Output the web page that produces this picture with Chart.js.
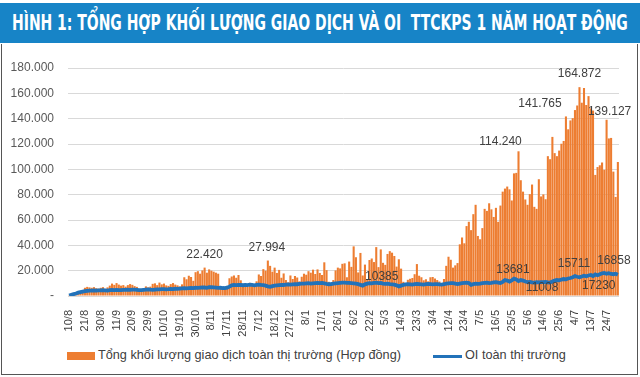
<!DOCTYPE html>
<html>
<head>
<meta charset="utf-8">
<script src="https://cdn.jsdelivr.net/npm/chart.js@4"></script>
<style>
  body { margin: 0; width: 640px; height: 377px; background: #fff; position: relative; overflow: hidden; font-family: "Liberation Sans", Arial, sans-serif; }
  #title { position: absolute; left: 0; top: 3px; width: 640px; height: 40px; background: #1784c7; }
  #titleText { position: absolute; left: 12px; top: 7px; color: #fff; font: bold 22px "Liberation Sans Narrow", "DejaVu Sans Condensed", sans-serif; white-space: nowrap; transform-origin: 0 0; }
  #frame { position: absolute; left: 1px; top: 44px; width: 635px; height: 330px; border: 1px solid #555; border-top: none; }
  #chart { position: absolute; left: 4px; top: 44px; }
  .lg { position: absolute; font-size: 12.7px; color: #404040; white-space: nowrap; }
</style>
</head>
<body>
<div id="title"><div id="titleText">HÌNH 1: TỔNG HỢP KHỐI LƯỢNG GIAO DỊCH VÀ OI&nbsp; TTCKPS 1 NĂM HOẠT ĐỘNG</div></div>
<div id="frame"></div>
<canvas id="chart" width="632" height="296"></canvas>
<div style="position:absolute;left:67px;top:352px;width:28px;height:8px;background:#ED7D31"></div>
<div class="lg" style="left:98px;top:348px">Tổng khối lượng giao dịch toàn thị trường (Hợp đồng)</div>
<div style="position:absolute;left:433px;top:355px;width:29px;height:3px;background:#2272B9"></div>
<div class="lg" style="left:465px;top:348px">OI toàn thị trường</div>
<script>
// fit title width
const tt = document.getElementById('titleText');
tt.style.transform = 'scaleX(' + (616 / tt.offsetWidth) + ')';

// x tick labels, one every 7 sessions
const tickLabels = ['10/8', '21/8', '30/8', '11/9', '20/9', '29/9', '10/10', '19/10', '30/10', '8/11',
    '17/11', '28/11', '7/12', '18/12', '27/12', '8/1', '17/1', '26/1', '6/2', '22/2', '5/3', '14/3',
    '23/3', '3/4', '12/4', '23/4', '7/5', '16/5', '25/5', '5/6', '14/6', '25/6', '4/7', '13/7', '24/7'];

// tổng khối lượng giao dịch (hợp đồng), mỗi phiên
const volume = [
    600, 900, 1400, 1800, 2600, 3000, 3800,
    6500, 7200, 6800, 6500, 7000, 6200, 5800,
    6500, 7000, 5600, 6800, 8200, 9800, 8800,
    10200, 9000, 8200, 8600, 7400, 8600, 9400,
    8800, 7800, 7200, 5600, 4800, 6000, 7600,
    6800, 7400, 9600, 10000, 8600, 10600, 9200,
    9800, 8400, 8000, 9400, 10200, 9000, 8400,
    7600, 9200, 14800, 13200, 16000, 15000, 12000,
    18800, 19600, 17600, 20200, 22420, 18400, 21000,
    20000, 19200, 18400, 17600, 7200, 6400, 5200,
    8000, 14000, 15400, 16200, 14400, 16600, 12400,
    8000, 9600, 7200, 10400, 9000, 8600, 11600,
    17000, 15800, 21200, 20000, 27994, 23800, 19200,
    22400, 18200, 20600, 14400, 17800, 12600, 10800,
    16200, 13400, 15800, 14600, 11600, 15200, 17600,
    16800, 19600, 18400, 20800, 17400, 21000, 18200,
    16600, 26600, 20400, 11200, 10400, 12600, 20200,
    22400, 21800, 25400, 25800, 14800, 27200, 23000,
    39200, 30600, 18600, 34000, 16200, 24800, 13400,
    28400, 29600, 26800, 38600, 22800, 36800, 26200,
    24600, 33200, 35400, 34200, 31600, 23200, 29000,
    21600, 11200, 10200, 12800, 13600, 14200, 17200,
    25200, 16000, 14800, 12400, 13200, 11600, 14800,
    15000, 13800, 12600, 11400, 9800, 13400, 23800,
    31000, 28600, 22400, 24200, 26000, 40800, 46200,
    41600, 55200, 58600, 52000, 64600, 72000, 47400,
    44800, 53600, 68800, 67200, 73200, 68400, 62400,
    69600, 58600, 71400, 82400, 84800, 86400, 84200,
    75400, 96800, 97200, 114240, 91400, 82400, 76200,
    72000, 80400, 88000, 70400, 68800, 92200, 78600,
    80200, 76400, 110400, 108000, 125600, 112800, 110400,
    114800, 120200, 122400, 141765, 131600, 138600, 140400,
    146800, 150400, 164872, 152600, 164200, 150800, 157800,
    148200, 146400, 95600, 101800, 103200, 105400, 99600,
    139127, 124400, 124800, 98200, 78200, 105800
];

// OI toàn thị trường
const openInterest = [
    300, 900, 1500, 2000, 2600, 3000, 3400,
    3800, 4100, 4300, 4200, 4400, 4300, 4500,
    4400, 4600, 4500, 4300, 4600, 4800, 4700,
    4900, 4700, 4600, 4800, 4900, 5000, 4800,
    5000, 5100, 4900, 4700, 4600, 4800, 5000,
    5200, 5000, 4900, 5100, 5300, 5200, 5400,
    5500, 5300, 5400, 5600, 5500, 5700, 5600,
    5800, 6000, 6200, 6100, 6300, 6400, 6200,
    6500, 6400, 6600, 6800, 6700, 6500, 6900,
    7000, 6800, 6600, 6400, 6500, 6300, 6200,
    6600, 7400, 8400, 8800, 8600, 8800, 8700,
    8500, 8800, 8600, 8900, 8700, 8400, 8800,
    9000, 8700, 8500, 8200, 7600, 7200, 7800,
    8200, 8400, 8600, 8800, 8700, 8900, 9100,
    9000, 9200, 9400, 9300, 9600, 9800, 9700,
    9900, 10100, 9800, 10000, 10200, 10400, 10100,
    10300, 10000, 9600, 9300, 9400, 9800, 10000,
    10200, 10400, 10600, 10500, 10300, 10400, 10200,
    10000, 9800, 9400, 8800, 8200, 9200, 9800,
    10200, 10000, 10400, 10600, 10200, 10385, 9800,
    9600, 9800, 9400, 9200, 9000, 8400, 7600,
    8200, 8800, 9200, 9400, 9200, 9000, 9400,
    9600, 9400, 9200, 9000, 9300, 9500, 9400,
    9200, 9400, 9300, 9100, 9000, 9300, 9800,
    10000, 10200, 10100, 9800, 9400, 9800, 10200,
    10400, 10600, 10200, 8800, 9400, 9800, 9600,
    9800, 10200, 10400, 10600, 10200, 10400, 10800,
    11000, 10600, 10200, 11200, 12600, 12200, 11400,
    12400, 13681, 13000, 11800, 12600, 12200, 11400,
    11000, 11200, 10800, 10600, 11000, 10800, 11008,
    11000, 11200, 10800, 10600, 11400, 12200, 12600,
    12400, 13000, 13400, 13200, 13800, 14200, 14800,
    15711, 15200, 14800, 15400, 16000, 15600, 16200,
    16600, 15800, 17000, 16400, 17230, 17800, 18200,
    17600, 18000, 17400, 17200, 17600, 16858
];

const categories = volume.map((v, i) => i);

// nhãn giá trị: [dataset, index, dx, dy]
const valueLabels = [
    [1, 60, 0, -13], [1, 88, -1, -13], [1, 199, -18, -10], [1, 220, -26, -13],
    [1, 226, 0, -13], [1, 238, 3, -8],
    [0, 138, 1, -6], [0, 197, -1, -9], [0, 209, 1, 6], [0, 224, -1, -12],
    [0, 235, -1, 12], [0, 243, -4, -14]
];

const fmtDot = n => String(n).replace(/\B(?=(\d{3})+(?!\d))/g, '.');

const labelPlugin = {
    id: 'valueLabels',
    afterDatasetsDraw(chart) {
        const ctx = chart.ctx;
        ctx.save();
        ctx.font = '12px "Liberation Sans", Arial, sans-serif';
        ctx.fillStyle = '#404040';
        ctx.textAlign = 'center';
        ctx.textBaseline = 'middle';
        valueLabels.forEach(([ds, i, dx, dy]) => {
            const el = chart.getDatasetMeta(ds).data[i];
            const v = chart.data.datasets[ds].data[i];
            const txt = ds === 1 ? fmtDot(v) : String(v);
            ctx.fillText(txt, el.x + dx, el.y + dy);
        });
        ctx.restore();
    }
};

new Chart(document.getElementById('chart'), {
    type: 'bar',
    data: {
        labels: categories,
        datasets: [{
            type: 'line',
            label: 'OI toàn thị trường',
            data: openInterest,
            borderColor: '#2272B9',
            borderWidth: 3.8,
            pointRadius: 0,
            tension: 0,
            order: 0
        }, {
            label: 'Tổng khối lượng giao dịch toàn thị trường (Hợp đồng)',
            data: volume,
            backgroundColor: '#ED7D31',
            barPercentage: 0.92,
            categoryPercentage: 1,
            order: 1
        }]
    },
    options: {
        responsive: false,
        animation: false,
        layout: { padding: { top: 24, right: 17, left: 0, bottom: 0 } },
        plugins: { legend: { display: false }, tooltip: { enabled: false } },
        scales: {
            x: {
                grid: { display: false },
                border: { display: false },
                ticks: {
                    autoSkip: false,
                    maxRotation: 90,
                    minRotation: 90,
                    padding: 6,
                    color: '#404040',
                    font: { size: 11, family: '"Liberation Sans", Arial, sans-serif' },
                    callback: (v, i) => i % 7 === 0 ? tickLabels[i / 7] : null
                },
                afterFit: s => { s.height = 44; }
            },
            y: {
                min: 0,
                max: 180000,
                border: { display: false },
                grid: { color: '#d9d9d9', drawTicks: false },
                ticks: {
                    stepSize: 20000,
                    padding: 14,
                    color: '#595959',
                    font: { size: 12, family: '"Liberation Sans", Arial, sans-serif' },
                    callback: v => v === 0 ? '-' : fmtDot(v)
                },
                afterFit: s => { s.width = 64; }
            }
        }
    },
    plugins: [labelPlugin]
});
</script>
</body>
</html>
